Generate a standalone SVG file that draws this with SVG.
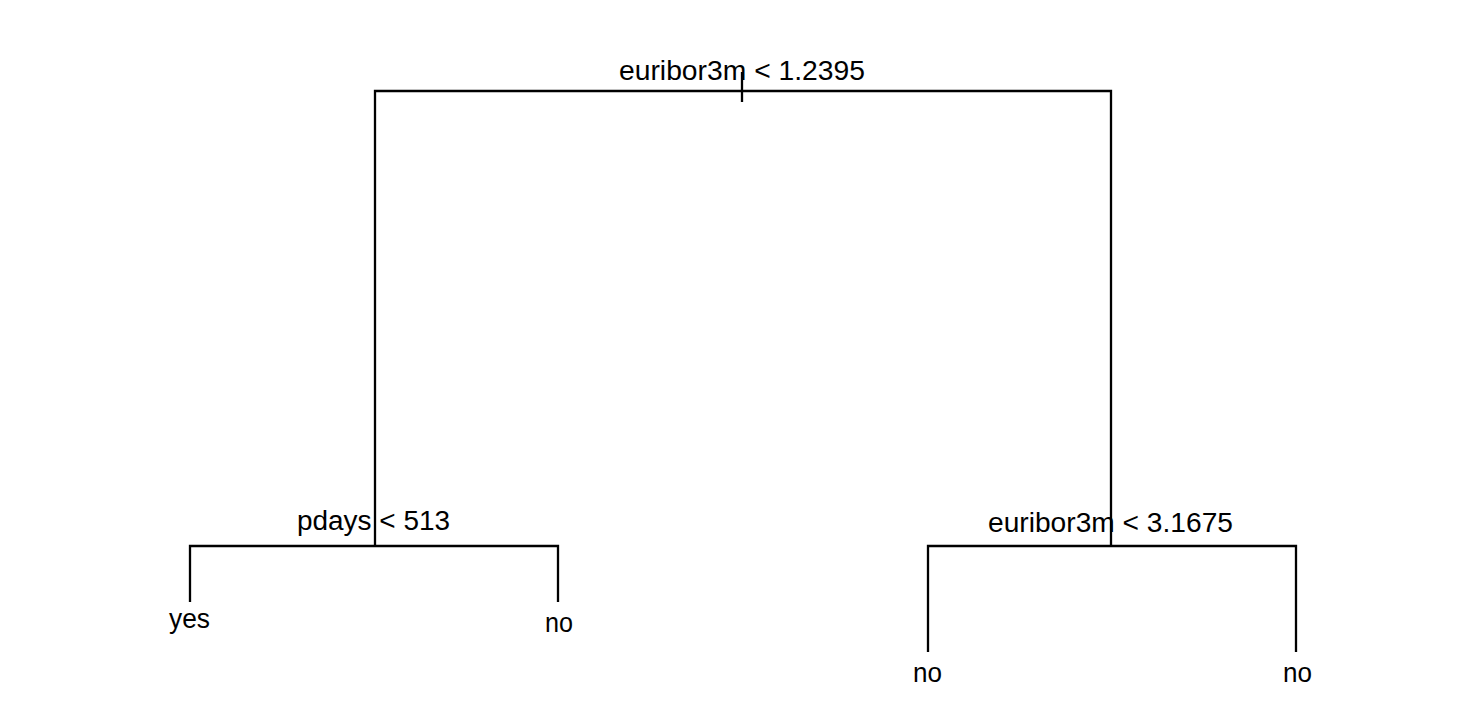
<svg xmlns="http://www.w3.org/2000/svg" width="1460" height="714" viewBox="0 0 1460 714">
<style>
.e{stroke:#000;stroke-width:2.3;fill:none;stroke-linecap:butt}
.t{font-family:"Liberation Sans",Arial,sans-serif;font-size:27px;fill:#000}
</style>
<rect width="1460" height="714" fill="#fff"/>
<g id="connectors">
<path class="e" d="M375,546 V91 H1111 V546"/>
<path class="e" d="M742,72 V102"/>
<path class="e" d="M190,602 V546 H558 V602"/>
<path class="e" d="M928,652 V546 H1296 V652"/>
</g>
<g id="n1"><text class="t" x="619" y="80" textLength="246" lengthAdjust="spacingAndGlyphs">euribor3m &lt; 1.2395</text></g>
<g id="n2"><text class="t" x="297" y="530" textLength="153" lengthAdjust="spacingAndGlyphs">pdays &lt; 513</text></g>
<g id="n3"><text class="t" x="988" y="532" textLength="245" lengthAdjust="spacingAndGlyphs">euribor3m &lt; 3.1675</text></g>
<g id="n4"><text class="t" x="169" y="628" textLength="41" lengthAdjust="spacingAndGlyphs">yes</text></g>
<g id="n5"><text class="t" x="545" y="632" textLength="28" lengthAdjust="spacingAndGlyphs">no</text></g>
<g id="n6"><text class="t" x="913" y="682" textLength="29" lengthAdjust="spacingAndGlyphs">no</text></g>
<g id="n7"><text class="t" x="1283" y="682" textLength="29" lengthAdjust="spacingAndGlyphs">no</text></g>
</svg>
